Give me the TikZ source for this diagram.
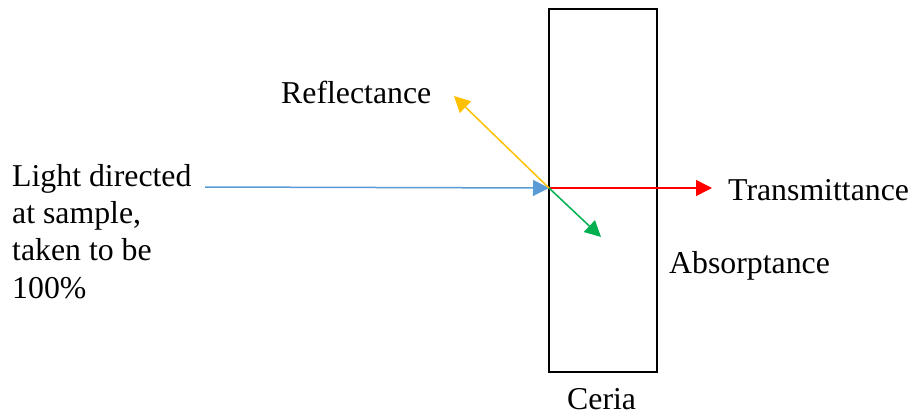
\documentclass[tikz,border=0pt]{standalone}
\usepackage{fontspec}
\setmainfont{Liberation Serif}
\usetikzlibrary{arrows.meta}
\definecolor{cblue}{HTML}{5B9BD5}
\definecolor{cyellow}{HTML}{FFC000}
\definecolor{cred}{HTML}{FF0000}
\definecolor{cgreen}{HTML}{00B050}
\begin{document}
\begin{tikzpicture}[x=1pt,y=-1pt,
  lbl/.style={inner sep=0pt, font=\fontsize{31.8}{37.3}\selectfont, anchor=base west},
  ray/.style={line width=1.5pt, -{Triangle[length=16pt,width=16pt]}}]
\useasboundingbox (0,0) rectangle (912,415);
\draw[line width=2.5pt] (549,9) rectangle (657,372);
\node[lbl, text depth=0pt] (ceria) at (567,409) {Ceria};
\node[lbl, align=left] (light) at (12,298) {Light directed\\at sample,\\taken to be\\100\%};
\node[lbl] (refl) at (281,103) {Reflectance};
\node[lbl] (trans) at (728,200) {Transmittance};
\node[lbl] (abs) at (669,273) {Absorptance};
\coordinate (hit) at (549,188);
\coordinate (bstart) at (205,187);
\coordinate (rtip) at (712,188);
\coordinate (ytip) at (454,96);
\coordinate (gtip) at (601,237);
\draw[ray, cblue] (bstart) -- (hit);
\draw[ray, cred] (hit) -- (rtip);
\draw[ray, cyellow] (hit) -- (ytip);
\draw[ray, cgreen] (hit) -- (gtip);
\end{tikzpicture}
\end{document}
